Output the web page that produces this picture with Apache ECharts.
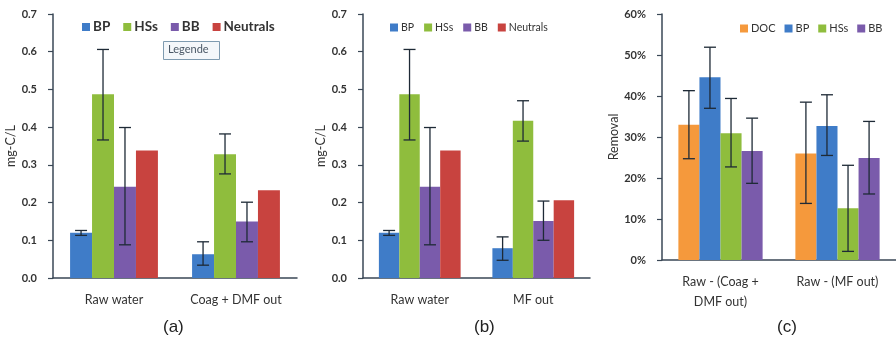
<!DOCTYPE html>
<html>
<head>
<meta charset="utf-8">
<script src="https://cdn.jsdelivr.net/npm/echarts@6/dist/echarts.min.js"></script>
<style>
  html, body { margin: 0; padding: 0; background: #fff; }
  #chart { width: 896px; height: 345px; }
</style>
</head>
<body>
<div id="chart"></div>
<script>
// categories
const catsA = ['Raw water', 'Coag + DMF out'];
const catsB = ['Raw water', 'MF out'];
const catsC = ['Raw - (Coag +\nDMF out)', 'Raw - (MF out)'];

// (a) mg-C/L
const aBP = [0.120, 0.063], aBPLow = [0.113, 0.034], aBPHigh = [0.126, 0.096];
const aHSs = [0.487, 0.328], aHSsLow = [0.366, 0.276], aHSsHigh = [0.606, 0.382];
const aBB = [0.242, 0.150], aBBLow = [0.088, 0.096], aBBHigh = [0.399, 0.201];
const aNeu = [0.338, 0.233];

// (b) mg-C/L
const bBP = [0.120, 0.079], bBPLow = [0.113, 0.047], bBPHigh = [0.126, 0.109];
const bHSs = [0.487, 0.417], bHSsLow = [0.366, 0.363], bHSsHigh = [0.606, 0.470];
const bBB = [0.242, 0.151], bBBLow = [0.088, 0.100], bBBHigh = [0.399, 0.204];
const bNeu = [0.338, 0.206];

// (c) removal %
const cDOC = [33.0, 26.0], cDOCLow = [24.7, 13.8], cDOCHigh = [41.3, 38.5];
const cBP = [44.6, 32.7], cBPLow = [37.0, 25.5], cBPHigh = [51.9, 40.3];
const cHSs = [30.9, 12.6], cHSsLow = [22.7, 2.1], cHSsHigh = [39.4, 23.1];
const cBB = [26.6, 24.9], cBBLow = [18.7, 16.1], cBBHigh = [34.6, 33.8];

const C = {
    DOC: '#f5993c',
    BP: '#3f7cc8',
    HSs: '#8fbd3d',
    BB: '#7a5bab',
    Neutrals: '#c8433f'
};
const axisCol = '#3a4756';
const txtCol = '#333';
const font = 'Lato';
const GAP = 0.28;

function bar(name, data, idx) {
    return {
        name: name, type: 'bar', xAxisIndex: idx, yAxisIndex: idx,
        data: data, barGap: '0%', barCategoryGap: (GAP * 100) + '%',
        itemStyle: { color: C[name] }, silent: true
    };
}

// error bars drawn through the axis scales
function err(low, high, idx, k, n) {
    return {
        name: 'err' + idx + '_' + k, type: 'custom', xAxisIndex: idx, yAxisIndex: idx,
        data: low.map((v, i) => [i, v, high[i]]),
        encode: { x: 0, y: [1, 2] }, z: 5, silent: true,
        renderItem: (params, api) => {
            const x = api.value(0);
            const lo = api.coord([x, api.value(1)]);
            const hi = api.coord([x, api.value(2)]);
            const band = api.size([1, 0])[0];
            const bw = band * (1 - GAP) / n;
            const cx = lo[0] + (k - (n - 1) / 2) * bw;
            const st = { stroke: '#1e2a36', lineWidth: 1.3 };
            const cap = 6;
            return {
                type: 'group',
                children: [
                    { type: 'line', shape: { x1: cx, y1: lo[1], x2: cx, y2: hi[1] }, style: st },
                    { type: 'line', shape: { x1: cx - cap, y1: lo[1], x2: cx + cap, y2: lo[1] }, style: st },
                    { type: 'line', shape: { x1: cx - cap, y1: hi[1], x2: cx + cap, y2: hi[1] }, style: st }
                ]
            };
        }
    };
}

function xAx(idx, cats) {
    return {
        type: 'category', gridIndex: idx, data: cats,
        axisLine: { lineStyle: { color: axisCol, width: 1.5 } },
        axisTick: { length: 5, lineStyle: { color: axisCol, width: 1.2 } },
        axisLabel: { color: txtCol, fontFamily: font, fontSize: 12.5, margin: 12, lineHeight: 20 }
    };
}

function yAx(idx, max, name, fmt, nameGap) {
    return {
        type: 'value', gridIndex: idx, min: 0, max: max, interval: max / (idx === 2 ? 6 : 7),
        name: name, nameLocation: 'middle', nameGap: nameGap, nameRotate: 90,
        nameTextStyle: { color: txtCol, fontFamily: font, fontSize: 12.5 },
        splitLine: { show: false },
        axisLine: { show: true, lineStyle: { color: axisCol, width: 1.5 } },
        axisTick: { show: true, length: 5, lineStyle: { color: axisCol, width: 1.2 } },
        axisLabel: { color: txtCol, fontFamily: font, fontSize: 11, fontWeight: 'bold', margin: 16, formatter: fmt }
    };
}

function legend(names, left, top, size, gap, bold) {
    return {
        data: names, left: left, top: top, itemWidth: 8, itemHeight: 8, itemGap: gap,
        icon: 'rect', selectedMode: false,
        textStyle: { color: txtCol, fontFamily: font, fontSize: size, fontWeight: bold ? 'bold' : 'normal', padding: [0, 0, 0, -2] }
    };
}

let myChart = echarts.init(document.getElementById('chart'));

let option = {
    backgroundColor: '#fff',
    animation: false,
    grid: [
        { left: 53, top: 14, width: 244, height: 264 },
        { left: 363, top: 14, width: 227, height: 264 },
        { left: 662, top: 14, width: 240, height: 246 }
    ],
    xAxis: [xAx(0, catsA), xAx(1, catsB), xAx(2, catsC)],
    yAxis: [
        yAx(0, 0.7, 'mg-C/L', v => v.toFixed(1), 34),
        yAx(1, 0.7, 'mg-C/L', v => v.toFixed(1), 34),
        yAx(2, 60, 'Removal', v => v + '%', 40)
    ],
    legend: [
        legend(['BP', 'HSs', 'BB', 'Neutrals'], 77, 15, 13.5, 13, true),
        legend(['BP', 'HSs', 'BB', 'Neutrals'], 385, 17, 10.5, 10, false),
        legend(['DOC', 'BP', 'HSs', 'BB'], 735, 18, 11, 9, false)
    ],
    series: [
        bar('BP', aBP, 0), bar('HSs', aHSs, 0), bar('BB', aBB, 0), bar('Neutrals', aNeu, 0),
        err(aBPLow, aBPHigh, 0, 0, 4), err(aHSsLow, aHSsHigh, 0, 1, 4), err(aBBLow, aBBHigh, 0, 2, 4),

        bar('BP', bBP, 1), bar('HSs', bHSs, 1), bar('BB', bBB, 1), bar('Neutrals', bNeu, 1),
        err(bBPLow, bBPHigh, 1, 0, 4), err(bHSsLow, bHSsHigh, 1, 1, 4), err(bBBLow, bBBHigh, 1, 2, 4),

        bar('DOC', cDOC, 2), bar('BP', cBP, 2), bar('HSs', cHSs, 2), bar('BB', cBB, 2),
        err(cDOCLow, cDOCHigh, 2, 0, 4), err(cBPLow, cBPHigh, 2, 1, 4),
        err(cHSsLow, cHSsHigh, 2, 2, 4), err(cBBLow, cBBHigh, 2, 3, 4)
    ],
    graphic: [
        // "Legende" tooltip box in (a)
        {
            type: 'rect', left: 163, top: 41, shape: { width: 56, height: 18 },
            style: { fill: '#f4f7fa', stroke: '#7f9bb0', lineWidth: 1 }
        },
        {
            type: 'text', left: 168, top: 44,
            style: { text: 'Legende', fill: '#4a5866', font: '11px Lato' }
        },
        { type: 'text', left: 163, top: 319, style: { text: '(a)', fill: '#222', font: '17px "Liberation Sans"' } },
        { type: 'text', left: 474, top: 319, style: { text: '(b)', fill: '#222', font: '17px "Liberation Sans"' } },
        { type: 'text', left: 777, top: 319, style: { text: '(c)', fill: '#222', font: '17px "Liberation Sans"' } }
    ]
};

myChart.setOption(option);
</script>
</body>
</html>
